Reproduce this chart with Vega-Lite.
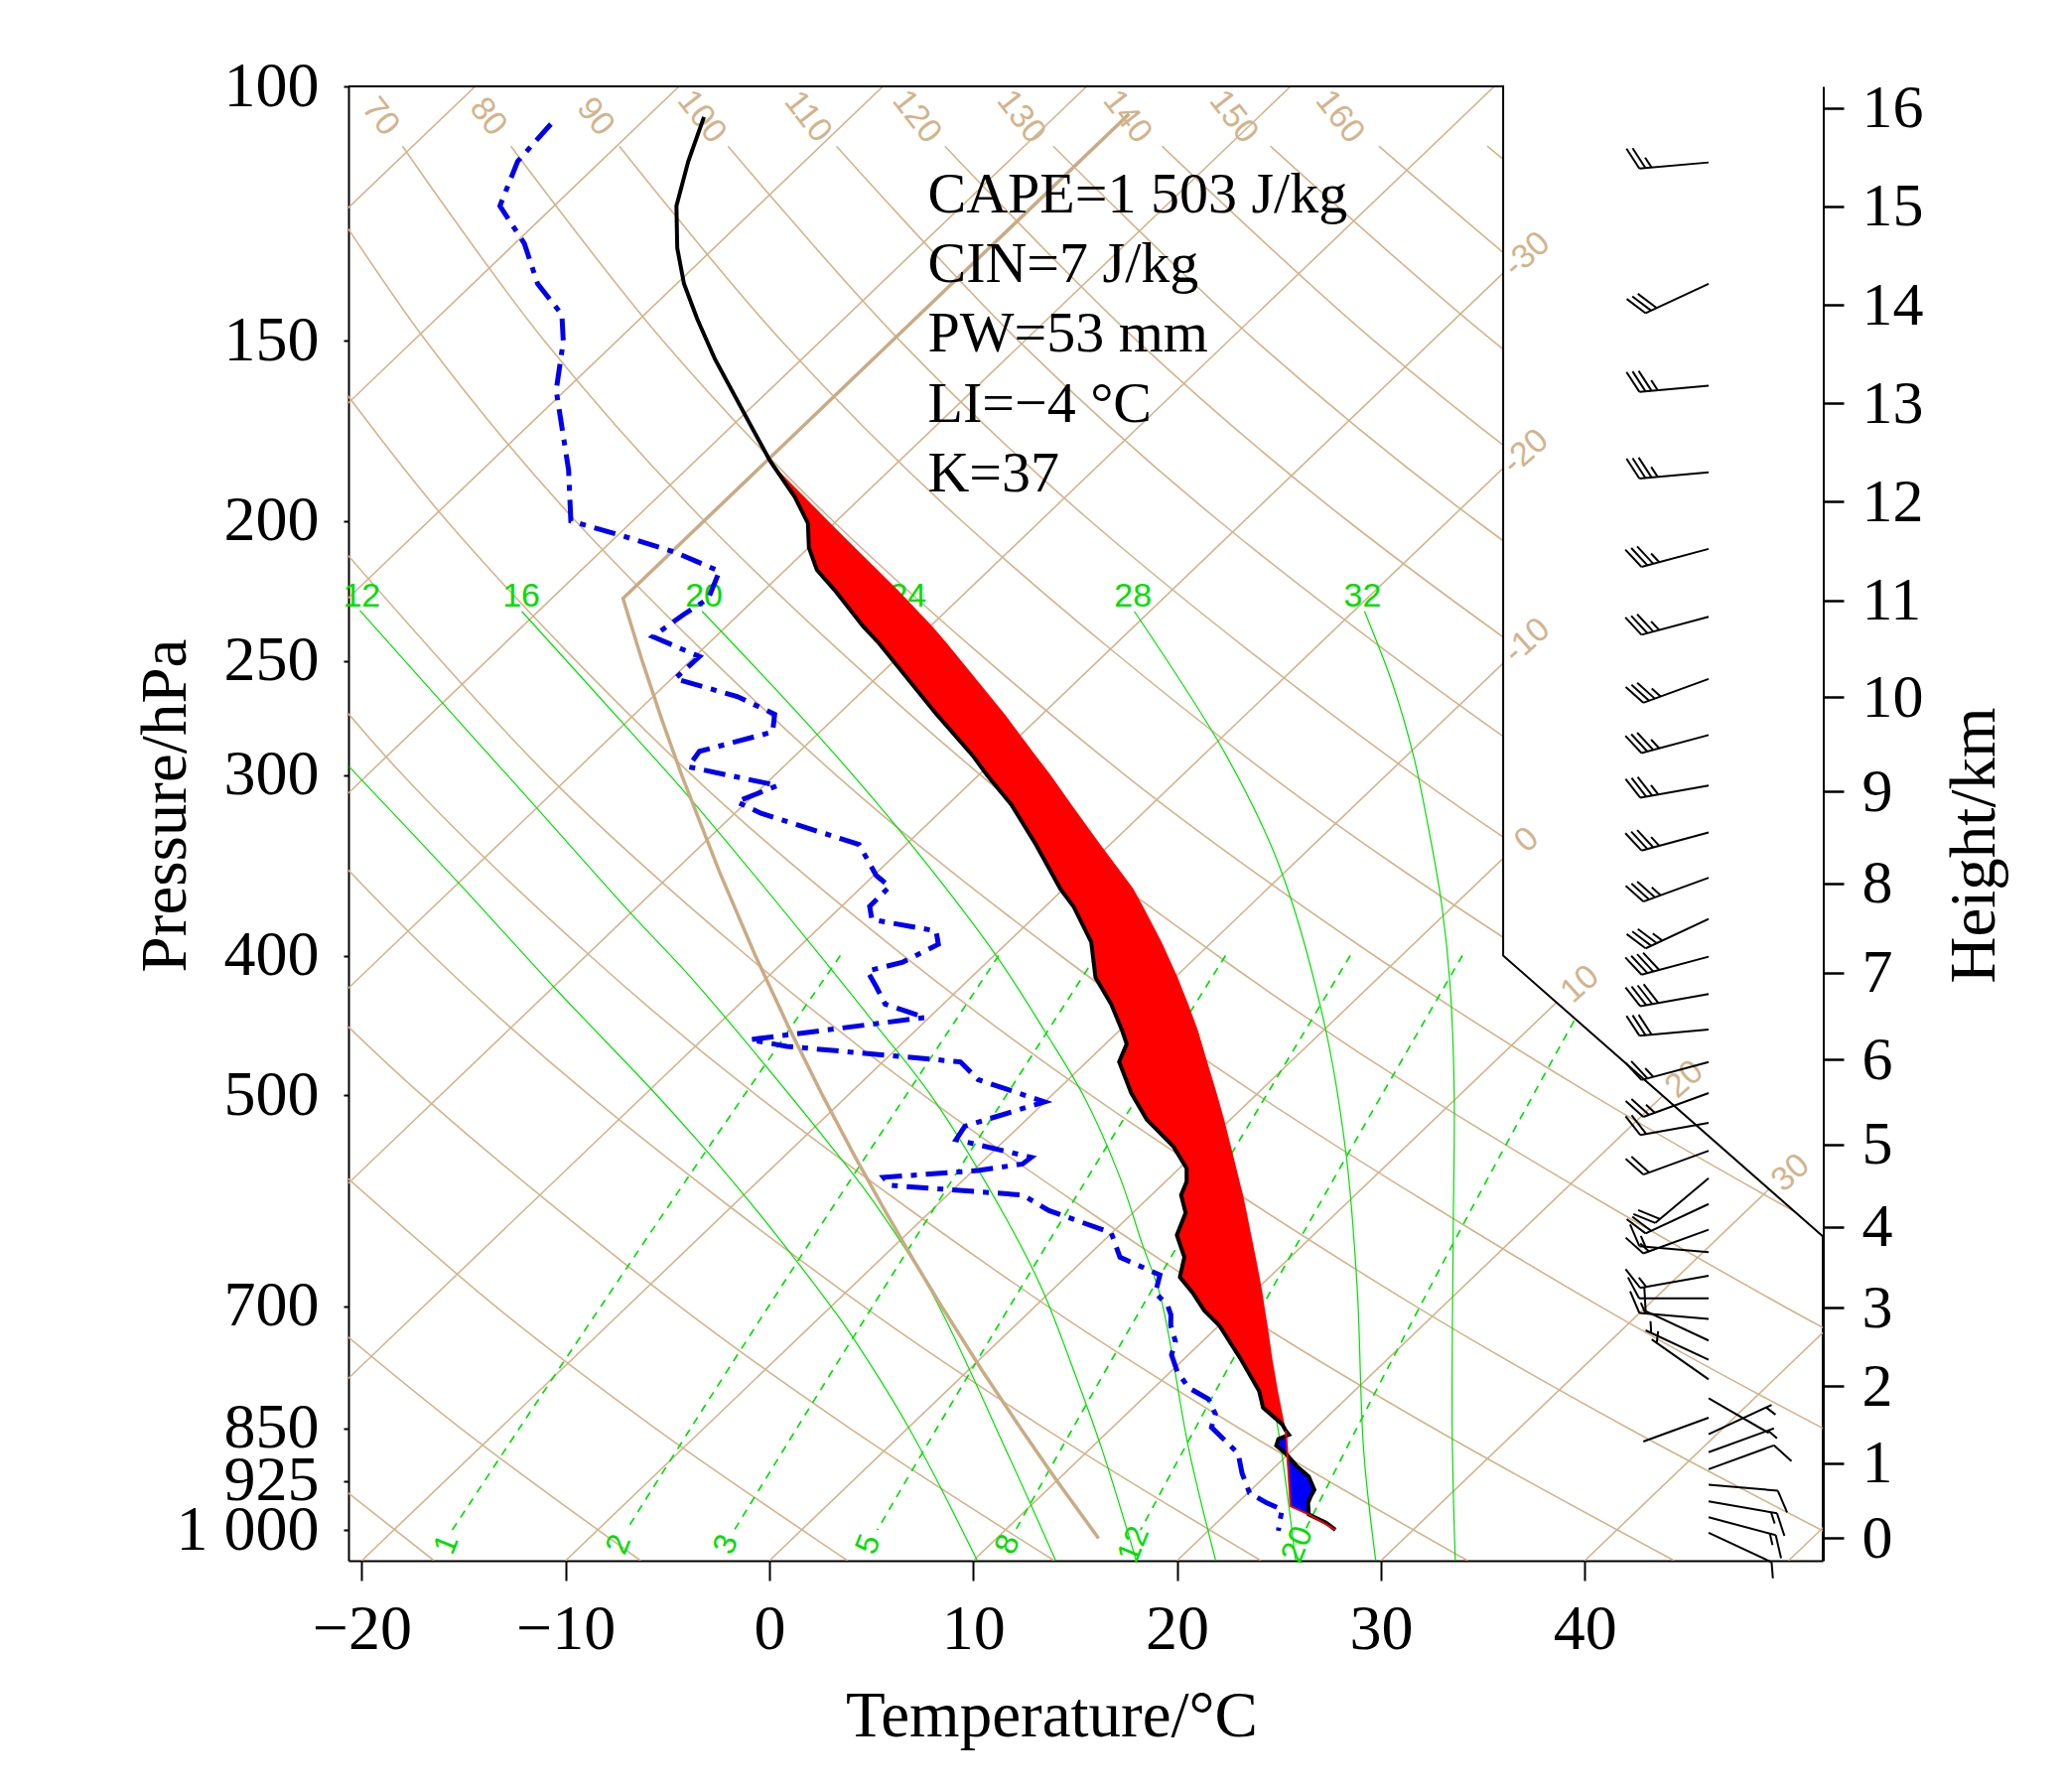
{
"$schema":"https://vega.github.io/schema/vega-lite/v6.json",
"width":1485,"height":1485,
"autosize":{"type":"none"},
"padding":{"left":351,"top":87,"right":245,"bottom":233},
"background":"white",
"config":{"view":{"stroke":null},"axis":{"grid":false}},
"datasets":{
"isobars":[{"p":1000},{"p":925},{"p":850},{"p":700},{"p":500},{"p":400},{"p":300},{"p":250},{"p":200},{"p":150}],
"isotherms":[{"g":"-90","x":-90,"p":1050},{"g":"-90","x":-14.43,"p":100},{"g":"-80","x":-80,"p":1050},{"g":"-80","x":-4.43,"p":100},{"g":"-70","x":-70,"p":1050},{"g":"-70","x":5.57,"p":100},{"g":"-60","x":-60,"p":1050},{"g":"-60","x":15.57,"p":100},{"g":"-50","x":-50,"p":1050},{"g":"-50","x":25.57,"p":100},{"g":"-40","x":-40,"p":1050},{"g":"-40","x":35.57,"p":100},{"g":"-30","x":-30,"p":1050},{"g":"-30","x":45.57,"p":100},{"g":"-20","x":-20,"p":1050},{"g":"-20","x":55.57,"p":100},{"g":"-10","x":-10,"p":1050},{"g":"-10","x":65.57,"p":100},{"g":"0","x":0,"p":1050},{"g":"0","x":75.57,"p":100},{"g":"10","x":10,"p":1050},{"g":"10","x":85.57,"p":100},{"g":"20","x":20,"p":1050},{"g":"20","x":95.57,"p":100},{"g":"30","x":30,"p":1050},{"g":"30","x":105.57,"p":100},{"g":"40","x":40,"p":1050},{"g":"40","x":115.57,"p":100},{"g":"50","x":50,"p":1050},{"g":"50","x":125.57,"p":100}],
"dry":[
{"g":"-20","x":-16.45,"p":1050},{"g":"-20","x":-24.69,"p":850},
{"g":"-10","x":-6.31,"p":1050},{"g":"-10","x":-15.15,"p":850},{"g":"-10","x":-22.46,"p":700},
{"g":"0","x":3.84,"p":1050},{"g":"0","x":-5.6,"p":850},{"g":"0","x":-13.43,"p":700},{"g":"0","x":-25.23,"p":500},
{"g":"10","x":13.98,"p":1050},{"g":"10","x":3.94,"p":850},{"g":"10","x":-4.4,"p":700},{"g":"10","x":-17.03,"p":500},{"g":"10","x":-24.2,"p":400},
{"g":"20","x":24.12,"p":1050},{"g":"20","x":13.49,"p":850},{"g":"20","x":4.63,"p":700},{"g":"20","x":-8.82,"p":500},{"g":"20","x":-16.51,"p":400},{"g":"20","x":-25.07,"p":300},
{"g":"30","x":34.26,"p":1050},{"g":"30","x":23.04,"p":850},{"g":"30","x":13.66,"p":700},{"g":"30","x":-0.62,"p":500},{"g":"30","x":-8.81,"p":400},{"g":"30","x":-17.98,"p":300},{"g":"30","x":-28.45,"p":200},
{"g":"40","x":44.4,"p":1050},{"g":"40","x":32.58,"p":850},{"g":"40","x":22.69,"p":700},{"g":"40","x":7.58,"p":500},{"g":"40","x":-1.11,"p":400},{"g":"40","x":-10.89,"p":300},{"g":"40","x":-22.13,"p":200},
{"g":"50","x":54.54,"p":1050},{"g":"50","x":42.13,"p":850},{"g":"50","x":31.72,"p":700},{"g":"50","x":15.79,"p":500},{"g":"50","x":6.58,"p":400},{"g":"50","x":-3.8,"p":300},{"g":"50","x":-15.82,"p":200},{"g":"50","x":-22.68,"p":150},
{"g":"60","x":64.68,"p":1050},{"g":"60","x":51.68,"p":850},{"g":"60","x":40.76,"p":700},{"g":"60","x":23.99,"p":500},{"g":"60","x":14.28,"p":400},{"g":"60","x":3.28,"p":300},{"g":"60","x":-9.51,"p":200},{"g":"60","x":-16.86,"p":150},{"g":"60","x":-23.32,"p":110},
{"g":"70","x":74.82,"p":1050},{"g":"70","x":61.22,"p":850},{"g":"70","x":49.79,"p":700},{"g":"70","x":32.19,"p":500},{"g":"70","x":21.98,"p":400},{"g":"70","x":10.37,"p":300},{"g":"70","x":-3.19,"p":200},{"g":"70","x":-11.05,"p":150},{"g":"70","x":-18.0,"p":110},
{"g":"80","x":70.77,"p":850},{"g":"80","x":58.82,"p":700},{"g":"80","x":40.4,"p":500},{"g":"80","x":29.67,"p":400},{"g":"80","x":17.46,"p":300},{"g":"80","x":3.12,"p":200},{"g":"80","x":-5.23,"p":150},{"g":"80","x":-12.68,"p":110},
{"g":"90","x":67.85,"p":700},{"g":"90","x":48.6,"p":500},{"g":"90","x":37.37,"p":400},{"g":"90","x":24.55,"p":300},{"g":"90","x":9.44,"p":200},{"g":"90","x":0.58,"p":150},{"g":"90","x":-7.36,"p":110},
{"g":"100","x":76.88,"p":700},{"g":"100","x":56.8,"p":500},{"g":"100","x":45.07,"p":400},{"g":"100","x":31.64,"p":300},{"g":"100","x":15.75,"p":200},{"g":"100","x":6.4,"p":150},{"g":"100","x":-2.03,"p":110},
{"g":"110","x":65.01,"p":500},{"g":"110","x":52.76,"p":400},{"g":"110","x":38.73,"p":300},{"g":"110","x":22.06,"p":200},{"g":"110","x":12.21,"p":150},{"g":"110","x":3.29,"p":110},
{"g":"120","x":60.46,"p":400},{"g":"120","x":45.82,"p":300},{"g":"120","x":28.38,"p":200},{"g":"120","x":18.03,"p":150},{"g":"120","x":8.61,"p":110},
{"g":"130","x":68.16,"p":400},{"g":"130","x":52.91,"p":300},{"g":"130","x":34.69,"p":200},{"g":"130","x":23.85,"p":150},{"g":"130","x":13.93,"p":110},
{"g":"140","x":60.0,"p":300},{"g":"140","x":41.01,"p":200},{"g":"140","x":29.66,"p":150},{"g":"140","x":19.26,"p":110},
{"g":"150","x":67.09,"p":300},{"g":"150","x":47.32,"p":200},{"g":"150","x":35.48,"p":150},{"g":"150","x":24.58,"p":110},
{"g":"160","x":53.63,"p":200},{"g":"160","x":41.29,"p":150},{"g":"160","x":29.9,"p":110},
{"g":"170","x":59.95,"p":200},{"g":"170","x":47.11,"p":150},{"g":"170","x":35.22,"p":110}],
"moist":[
{"g":"8","x":-20.61,"p":296},{"g":"8","x":-15.28,"p":355.8},{"g":"8","x":-10.5,"p":421.6},{"g":"8","x":-5.72,"p":496.3},{"g":"8","x":-3.67,"p":534.4},{"g":"8","x":-1.15,"p":588.2},{"g":"8","x":0.68,"p":633.5},{"g":"8","x":3.09,"p":702.1},{"g":"8","x":3.94,"p":730},{"g":"8","x":6.85,"p":850},{"g":"8","x":10.2,"p":1050},
{"g":"12","x":-20.09,"p":230.7},{"g":"12","x":-14.6,"p":281.7},{"g":"12","x":-12.0,"p":309.4},{"g":"12","x":-6.8,"p":373.9},{"g":"12","x":-3.85,"p":414.2},{"g":"12","x":-1.25,"p":457.4},{"g":"12","x":2.85,"p":538.3},{"g":"12","x":5.03,"p":590.2},{"g":"12","x":7.9,"p":682},{"g":"12","x":11.64,"p":882},{"g":"12","x":14.05,"p":1050},
{"g":"16","x":-12.15,"p":231},{"g":"16","x":-6.63,"p":281.7},{"g":"16","x":-4.0,"p":310},{"g":"16","x":1.95,"p":391.4},{"g":"16","x":5.1,"p":444.6},{"g":"16","x":8.0,"p":501.6},{"g":"16","x":11.7,"p":611.4},{"g":"16","x":13.4,"p":682},{"g":"16","x":15.05,"p":783.4},{"g":"16","x":16.35,"p":882},{"g":"16","x":18.0,"p":1050},
{"g":"20","x":-3.3,"p":231},{"g":"20","x":2.4,"p":281.7},{"g":"20","x":6.77,"p":332.6},{"g":"20","x":11.12,"p":399.9},{"g":"20","x":13.5,"p":451},{"g":"20","x":15.46,"p":501.6},{"g":"20","x":17.2,"p":569.7},{"g":"20","x":18.29,"p":633.5},{"g":"20","x":19.2,"p":690},{"g":"20","x":20.6,"p":882},{"g":"20","x":21.9,"p":1050},
{"g":"24","x":6.5,"p":231},{"g":"24","x":10.6,"p":266.4},{"g":"24","x":12.3,"p":290.8},{"g":"24","x":15.5,"p":335},{"g":"24","x":18.5,"p":386},{"g":"24","x":20.4,"p":444.6},{"g":"24","x":21.75,"p":512.2},{"g":"24","x":22.85,"p":590.2},{"g":"24","x":23.75,"p":680},{"g":"24","x":24.45,"p":783.4},{"g":"24","x":24.97,"p":853.6},{"g":"24","x":25.82,"p":1050},
{"g":"28","x":17.9,"p":231},{"g":"28","x":22.42,"p":290.8},{"g":"28","x":25.03,"p":347.1},{"g":"28","x":27.21,"p":444.6},{"g":"28","x":28.3,"p":549.9},{"g":"28","x":28.84,"p":680},{"g":"28","x":29.16,"p":882},{"g":"28","x":29.75,"p":1050},
{"g":"32","x":29.2,"p":231},{"g":"32","x":30.6,"p":260},{"g":"32","x":31.6,"p":290.8},{"g":"32","x":32.4,"p":330},{"g":"32","x":33.0,"p":370},{"g":"32","x":33.4,"p":420},{"g":"32","x":33.6,"p":500},{"g":"32","x":33.55,"p":620},{"g":"32","x":33.5,"p":850},{"g":"32","x":33.65,"p":1050}],
"mix":[
{"g":"1","x":-15.56,"p":1000},{"g":"1","x":-12.26,"p":850},{"g":"1","x":-8.27,"p":700},{"g":"1","x":-3.25,"p":550},{"g":"1","x":3.48,"p":400},
{"g":"2","x":-7.01,"p":1000},{"g":"2","x":-3.86,"p":850},{"g":"2","x":-0.04,"p":700},{"g":"2","x":4.77,"p":550},{"g":"2","x":11.25,"p":400},
{"g":"3","x":-1.72,"p":1000},{"g":"3","x":1.35,"p":850},{"g":"3","x":5.06,"p":700},{"g":"3","x":9.74,"p":550},{"g":"3","x":16.04,"p":400},
{"g":"5","x":5.29,"p":1000},{"g":"5","x":8.22,"p":850},{"g":"5","x":11.79,"p":700},{"g":"5","x":16.29,"p":550},{"g":"5","x":22.38,"p":400},
{"g":"8","x":12.08,"p":1000},{"g":"8","x":14.89,"p":850},{"g":"8","x":18.3,"p":700},{"g":"8","x":22.63,"p":550},{"g":"8","x":28.5,"p":400},
{"g":"12","x":18.21,"p":1000},{"g":"12","x":20.9,"p":850},{"g":"12","x":24.18,"p":700},{"g":"12","x":28.35,"p":550},{"g":"12","x":34.0,"p":400},
{"g":"20","x":26.29,"p":1000},{"g":"20","x":28.82,"p":850},{"g":"20","x":31.92,"p":700},{"g":"20","x":35.86,"p":550},{"g":"20","x":41.25,"p":400}],
"stdatm":[{"x":16.15,"p":1013.25},{"x":14.12,"p":925},{"x":12.32,"p":850},{"x":10.43,"p":775},{"x":8.45,"p":700},{"x":7.07,"p":650},{"x":5.65,"p":600},{"x":4.16,"p":550},{"x":2.61,"p":500},{"x":1.0,"p":450},{"x":-0.69,"p":400},{"x":-2.45,"p":350},{"x":-4.3,"p":300},{"x":-5.26,"p":275},{"x":-6.24,"p":250},{"x":-7.18,"p":226.32},{"x":17.65,"p":104.5}],
"overlay":[{"p":99,"x":36,"x2":53},{"p":400,"x":36,"x2":53},{"p":626,"x":51.68,"x2":53}],
"frame":[{"i":0,"x":-20.65,"p":100},{"i":1,"x":36,"p":100},{"i":2,"x":36,"p":400},{"i":3,"x":51.68,"p":626}],
"drylabels":[{"t":"70","x":-19.09,"p":105},{"t":"80","x":-13.81,"p":105},{"t":"90","x":-8.54,"p":105},{"t":"100","x":-3.33,"p":105},{"t":"110","x":1.88,"p":105},{"t":"120","x":7.22,"p":105},{"t":"130","x":12.34,"p":105},{"t":"140","x":17.55,"p":105},{"t":"150","x":22.76,"p":105},{"t":"160","x":27.98,"p":105}],
"isolabels":[{"t":"-30","x":37.17,"p":130.8},{"t":"-20","x":37.1,"p":179.2},{"t":"-10","x":37.17,"p":242.2},{"t":"0","x":37.17,"p":332.7},{"t":"10","x":39.78,"p":418.8},{"t":"20","x":44.9,"p":487.5},{"t":"30","x":50.11,"p":565.9}],
"moistlabels":[{"t":"12","x":-20.0,"p":225.6},{"t":"16","x":-12.17,"p":225.6},{"t":"20","x":-3.21,"p":225.6},{"t":"24","x":6.79,"p":225.6},{"t":"28","x":17.84,"p":225.6},{"t":"32","x":29.1,"p":225.6}],
"mixlabels":[{"t":"1","x":-15.85,"p":1023},{"t":"2","x":-7.4,"p":1023},{"t":"3","x":-2.14,"p":1023},{"t":"5","x":4.85,"p":1023},{"t":"8","x":11.68,"p":1023},{"t":"12","x":17.86,"p":1023},{"t":"20","x":25.9,"p":1023}],
"red":[{"p":184.4,"x":0.35,"x2":0.42},{"p":192.4,"x":1.24,"x2":1.71},{"p":200.7,"x":1.89,"x2":2.99},{"p":208.7,"x":1.94,"x2":4.2},{"p":216.2,"x":2.33,"x2":5.3},{"p":223.3,"x":3.2,"x2":6.3},{"p":236.6,"x":4.6,"x2":8.0},{"p":243,"x":5.37,"x2":8.7},{"p":272.2,"x":8.2,"x2":11.55},{"p":290.8,"x":9.98,"x2":13.07},{"p":300,"x":10.68,"x2":13.8},{"p":314.4,"x":11.87,"x2":14.82},{"p":335,"x":13.07,"x2":16.23},{"p":359.5,"x":14.27,"x2":17.85},{"p":369.8,"x":14.92,"x2":18.33},{"p":391.4,"x":15.79,"x2":19.24},{"p":414.2,"x":16.0,"x2":20.03},{"p":432.2,"x":16.77,"x2":20.55},{"p":451,"x":17.31,"x2":21.03},{"p":460.6,"x":17.53,"x2":21.22},{"p":473.9,"x":17.16,"x2":21.48},{"p":497.9,"x":17.75,"x2":21.94},{"p":519.5,"x":18.51,"x2":22.31},{"p":542.1,"x":19.81,"x2":22.64},{"p":561.6,"x":20.47,"x2":22.91},{"p":573.7,"x":20.47,"x2":23.07},{"p":586,"x":20.2,"x2":23.24},{"p":602.9,"x":20.42,"x2":23.42},{"p":624.6,"x":19.99,"x2":23.64},{"p":647.1,"x":20.36,"x2":23.86},{"p":668,"x":20.14,"x2":24.05},{"p":684.6,"x":20.76,"x2":24.19},{"p":704.4,"x":21.33,"x2":24.32},{"p":721.5,"x":22.07,"x2":24.44},{"p":760.3,"x":23.1,"x2":24.67},{"p":801.3,"x":24.03,"x2":24.95},{"p":822.6,"x":24.22,"x2":25.11},{"p":844.4,"x":25.15,"x2":25.27},{"p":853.6,"x":25.34,"x2":25.34}],
"blue":[{"p":853.6,"x":25.34,"x2":25.34},{"p":858.9,"x":25.49,"x2":25.35},{"p":864.8,"x":24.97,"x2":25.36},{"p":874,"x":24.87,"x2":25.37},{"p":885.1,"x":25.34,"x2":25.38},{"p":903.9,"x":25.9,"x2":25.43},{"p":918.2,"x":26.46,"x2":25.47},{"p":937.7,"x":26.74,"x2":25.51},{"p":947.6,"x":26.56,"x2":25.54},{"p":957.6,"x":26.43,"x2":25.56},{"p":962.6,"x":26.45,"x2":25.57},{"p":975.3,"x":26.46,"x2":26.46}],
"env":[{"x":-3.21,"p":105},{"x":-3.98,"p":112.7},{"x":-4.56,"p":121},{"x":-4.52,"p":129.4},{"x":-4.19,"p":137},{"x":-3.54,"p":144.9},{"x":-2.67,"p":154.5},{"x":-1.26,"p":168.2},{"x":0.04,"p":181.8},{"x":1.24,"p":192.4},{"x":1.89,"p":200.7},{"x":1.94,"p":208.7},{"x":2.33,"p":216.2},{"x":3.2,"p":223.3},{"x":4.6,"p":236.6},{"x":5.37,"p":243},{"x":8.2,"p":272.2},{"x":9.98,"p":290.8},{"x":10.68,"p":300},{"x":11.87,"p":314.4},{"x":13.07,"p":335},{"x":14.27,"p":359.5},{"x":14.92,"p":369.8},{"x":15.79,"p":391.4},{"x":16.0,"p":414.2},{"x":16.77,"p":432.2},{"x":17.31,"p":451},{"x":17.53,"p":460.6},{"x":17.16,"p":473.9},{"x":17.75,"p":497.9},{"x":18.51,"p":519.5},{"x":19.81,"p":542.1},{"x":20.47,"p":561.6},{"x":20.47,"p":573.7},{"x":20.2,"p":586},{"x":20.42,"p":602.9},{"x":19.99,"p":624.6},{"x":20.36,"p":647.1},{"x":20.14,"p":668},{"x":20.76,"p":684.6},{"x":21.33,"p":704.4},{"x":22.07,"p":721.5},{"x":23.1,"p":760.3},{"x":24.03,"p":801.3},{"x":24.22,"p":822.6},{"x":25.15,"p":844.4},{"x":25.34,"p":853.6},{"x":25.49,"p":858.9},{"x":24.97,"p":864.8},{"x":24.87,"p":874},{"x":25.34,"p":885.1},{"x":25.9,"p":903.9},{"x":26.46,"p":918.2},{"x":26.74,"p":937.7},{"x":26.56,"p":947.6},{"x":26.43,"p":957.6},{"x":26.46,"p":975.3},{"x":27.31,"p":988.1},{"x":27.77,"p":999.6}],
"parcel":[{"x":25.34,"p":853.6},{"x":25.57,"p":962.6},{"x":26.46,"p":975.3},{"x":27.77,"p":999.6}],
"dew":[{"x":-10.72,"p":106.2},{"x":-12.35,"p":112.7},{"x":-13.22,"p":121},{"x":-12.02,"p":128.5},{"x":-11.37,"p":137},{"x":-10.18,"p":143.9},{"x":-10.11,"p":150.2},{"x":-10.46,"p":162.4},{"x":-9.85,"p":184.4},{"x":-9.74,"p":200},{"x":-7.46,"p":204.3},{"x":-4.63,"p":210.2},{"x":-2.45,"p":216.7},{"x":-3.0,"p":226.4},{"x":-4.19,"p":232.1},{"x":-5.72,"p":240.5},{"x":-3.43,"p":248.3},{"x":-4.63,"p":257.2},{"x":-1.58,"p":264.6},{"x":0.26,"p":272.2},{"x":0.16,"p":280},{"x":-3.43,"p":288.8},{"x":-3.98,"p":296},{"x":0.4,"p":305},{"x":-1.6,"p":313},{"x":-0.41,"p":318.8},{"x":4.4,"p":335},{"x":5.24,"p":352},{"x":5.9,"p":358.3},{"x":4.92,"p":369.8},{"x":5.03,"p":377.7},{"x":8.18,"p":384.6},{"x":8.29,"p":392.9},{"x":6.55,"p":404.2},{"x":4.81,"p":410},{"x":5.24,"p":420.3},{"x":5.68,"p":432.2},{"x":7.64,"p":441.5},{"x":-0.95,"p":457.4},{"x":0.85,"p":462.3},{"x":9.37,"p":473.9},{"x":10.24,"p":487.5},{"x":13.5,"p":505.1},{"x":9.59,"p":525.1},{"x":9.16,"p":536.4},{"x":12.85,"p":551.8},{"x":12.42,"p":557.7},{"x":10.24,"p":563.6},{"x":5.6,"p":569.7},{"x":5.9,"p":577},{"x":12.42,"p":586},{"x":13.72,"p":600.8},{"x":16.77,"p":622.4},{"x":17.2,"p":647.1},{"x":19.16,"p":665.7},{"x":18.94,"p":684.8},{"x":19.54,"p":699},{"x":19.7,"p":709.4},{"x":19.69,"p":721.5},{"x":19.92,"p":740.2},{"x":19.73,"p":756.3},{"x":20.01,"p":776.4},{"x":20.57,"p":797},{"x":21.55,"p":811.6},{"x":21.88,"p":830.9},{"x":21.69,"p":848.8},{"x":22.35,"p":866.8},{"x":23.0,"p":885.1},{"x":23.19,"p":913.4},{"x":23.56,"p":942.7},{"x":24.4,"p":957.6},{"x":25.15,"p":967.7},{"x":25.06,"p":983},{"x":24.97,"p":1001.2}],
"barbs":[
{"x":46.08,"p":112.9,"x2":42.683,"p2":114.0},{"x":42.683,"p":114.0,"x2":42.051,"p2":110.45},{"x":42.983,"p":113.9,"x2":42.35,"p2":110.35},{"x":43.281,"p":113.8,"x2":42.964,"p2":112.02},
{"x":46.08,"p":137,"x2":42.99,"p2":143.58},{"x":42.99,"p":143.58,"x2":42.063,"p2":140.36},{"x":43.262,"p":142.99,"x2":42.335,"p2":139.78},{"x":43.534,"p":142.4,"x2":42.607,"p2":139.21},
{"x":46.08,"p":161.2,"x2":42.683,"p2":162.77},{"x":42.683,"p":162.77,"x2":42.051,"p2":157.7},{"x":42.983,"p":162.63,"x2":42.35,"p2":157.56},{"x":43.281,"p":162.49,"x2":42.648,"p2":157.43},{"x":43.58,"p":162.35,"x2":43.264,"p2":159.81},
{"x":46.08,"p":185.1,"x2":42.683,"p2":186.9},{"x":42.683,"p":186.9,"x2":42.051,"p2":181.08},{"x":42.983,"p":186.74,"x2":42.35,"p2":180.93},{"x":43.281,"p":186.58,"x2":42.648,"p2":180.77},{"x":43.58,"p":186.42,"x2":43.264,"p2":183.5},
{"x":46.08,"p":209.1,"x2":42.787,"p2":215.2},{"x":42.787,"p":215.2,"x2":41.995,"p2":209.34},{"x":43.077,"p":214.65,"x2":42.285,"p2":208.82},{"x":43.366,"p":214.11,"x2":42.575,"p2":208.29},{"x":43.656,"p":213.57,"x2":43.26,"p2":210.65},
{"x":46.08,"p":233,"x2":42.787,"p2":239.79},{"x":42.787,"p":239.79,"x2":41.995,"p2":233.27},{"x":43.077,"p":239.19,"x2":42.285,"p2":232.69},{"x":43.366,"p":238.58,"x2":42.575,"p2":232.1},{"x":43.656,"p":237.98,"x2":43.26,"p2":234.72},
{"x":46.08,"p":257.3,"x2":42.876,"p2":267.25},{"x":42.876,"p":267.25,"x2":42.014,"p2":260.6},{"x":43.158,"p":266.36,"x2":42.296,"p2":259.73},{"x":43.44,"p":265.48,"x2":42.578,"p2":258.87},{"x":43.722,"p":264.59,"x2":43.291,"p2":261.28},
{"x":46.08,"p":281.4,"x2":42.787,"p2":289.6},{"x":42.787,"p":289.6,"x2":41.995,"p2":281.73},{"x":43.077,"p":288.87,"x2":42.285,"p2":281.02},{"x":43.366,"p":288.14,"x2":42.575,"p2":280.31},{"x":43.656,"p":287.42,"x2":43.26,"p2":283.48},
{"x":46.08,"p":305,"x2":42.722,"p2":310.93},{"x":42.722,"p":310.93,"x2":42.007,"p2":301.83},{"x":43.018,"p":310.41,"x2":42.303,"p2":301.32},{"x":43.313,"p":309.88,"x2":42.598,"p2":300.81},{"x":43.608,"p":309.36,"x2":43.251,"p2":304.79},
{"x":46.08,"p":328.7,"x2":42.787,"p2":338.28},{"x":42.787,"p":338.28,"x2":41.995,"p2":329.08},{"x":43.077,"p":337.43,"x2":42.285,"p2":328.26},{"x":43.366,"p":336.58,"x2":42.575,"p2":327.42},{"x":43.656,"p":335.73,"x2":43.26,"p2":331.13},
{"x":46.08,"p":353.3,"x2":42.876,"p2":366.97},{"x":42.876,"p":366.97,"x2":42.014,"p2":357.83},{"x":43.158,"p":365.74,"x2":42.296,"p2":356.64},{"x":43.44,"p":364.53,"x2":42.578,"p2":355.45},{"x":43.722,"p":363.31,"x2":43.291,"p2":358.76},
{"x":46.08,"p":377.3,"x2":42.99,"p2":395.42},{"x":42.99,"p":395.42,"x2":42.063,"p2":386.56},{"x":43.262,"p":393.79,"x2":42.335,"p2":384.96},{"x":43.534,"p":392.17,"x2":42.607,"p2":383.37},{"x":43.806,"p":390.55,"x2":43.342,"p2":386.15},
{"x":46.08,"p":400.7,"x2":42.787,"p2":412.38},{"x":42.787,"p":412.38,"x2":41.995,"p2":401.17},{"x":43.077,"p":411.34,"x2":42.285,"p2":400.16},{"x":43.366,"p":410.3,"x2":42.575,"p2":399.15},{"x":43.656,"p":409.27,"x2":42.865,"p2":398.14},
{"x":46.08,"p":425.3,"x2":42.722,"p2":433.57},{"x":42.722,"p":433.57,"x2":42.007,"p2":420.88},{"x":43.018,"p":432.84,"x2":42.303,"p2":420.17},{"x":43.313,"p":432.1,"x2":42.598,"p2":419.45},{"x":43.608,"p":431.37,"x2":42.893,"p2":418.74},
{"x":46.08,"p":450.1,"x2":42.683,"p2":454.47},{"x":42.683,"p":454.47,"x2":42.051,"p2":440.33},{"x":42.983,"p":454.09,"x2":42.35,"p2":439.95},{"x":43.281,"p":453.71,"x2":42.648,"p2":439.58},
{"x":46.08,"p":474,"x2":42.787,"p2":487.82},{"x":42.787,"p":487.82,"x2":41.995,"p2":474.55},{"x":43.077,"p":486.59,"x2":42.285,"p2":473.36},{"x":43.366,"p":485.36,"x2":42.97,"p2":478.71},
{"x":46.08,"p":498.1,"x2":42.876,"p2":517.37},{"x":42.876,"p":517.37,"x2":42.014,"p2":504.49},{"x":43.158,"p":515.64,"x2":42.296,"p2":502.81},{"x":43.44,"p":513.93,"x2":43.009,"p2":507.49},
{"x":46.08,"p":522.3,"x2":42.722,"p2":532.46},{"x":42.722,"p":532.46,"x2":42.007,"p2":516.87},{"x":43.018,"p":531.56,"x2":42.303,"p2":515.99},
{"x":46.08,"p":546.1,"x2":42.876,"p2":567.23},{"x":42.876,"p":567.23,"x2":42.014,"p2":553.11},{"x":43.158,"p":565.33,"x2":42.296,"p2":551.26},
{"x":46.08,"p":570.5,"x2":43.468,"p2":612.7},{"x":43.468,"p":612.7,"x2":42.393,"p2":604.12},{"x":43.698,"p":608.87,"x2":42.623,"p2":600.34},
{"x":46.08,"p":594.5,"x2":42.99,"p2":623.05},{"x":42.99,"p":623.05,"x2":42.063,"p2":609.08},{"x":43.262,"p":620.49,"x2":42.335,"p2":606.57},
{"x":46.08,"p":619.3,"x2":42.876,"p2":643.26},{"x":42.876,"p":643.26,"x2":42.014,"p2":627.25},{"x":43.158,"p":641.11,"x2":42.727,"p2":633.09},
{"x":46.08,"p":642,"x2":42.683,"p2":635.82},{"x":42.683,"p":635.82,"x2":42.229,"p2":614.12},{"x":42.983,"p":636.36,"x2":42.755,"p2":625.41},
{"x":46.08,"p":666.6,"x2":42.722,"p2":679.57},{"x":42.722,"p":679.57,"x2":42.007,"p2":659.67},{"x":43.018,"p":678.42,"x2":42.66,"p2":668.41},
{"x":46.08,"p":690.9,"x2":42.67,"p2":690.9},{"x":42.67,"p":690.9,"x2":42.125,"p2":668.27},
{"x":46.08,"p":714.2,"x2":42.683,"p2":707.32},{"x":42.683,"p":707.32,"x2":42.229,"p2":683.18},{"x":42.983,"p":707.93,"x2":42.755,"p2":695.75},
{"x":46.08,"p":739.1,"x2":42.99,"p2":705.23},{"x":42.99,"p":705.23,"x2":42.927,"p2":679.15},
{"x":46.08,"p":762.1,"x2":42.99,"p2":727.18},{"x":43.262,"p":730.18,"x2":43.23,"p2":716.56},
{"x":46.08,"p":786.3,"x2":43.287,"p2":737.79},{"x":43.533,"p":741.94,"x2":43.603,"p2":728.18},
{"x":46.08,"p":810.4,"x2":49.033,"p2":856.65},
{"x":46.08,"p":835.9,"x2":42.876,"p2":868.24},
{"x":46.08,"p":858.3,"x2":49.17,"p2":818.97},{"x":48.898,"p":822.35,"x2":49.362,"p2":831.73},
{"x":46.08,"p":883.2,"x2":49.284,"p2":850.3},{"x":49.002,"p":853.15,"x2":49.433,"p2":863.97},
{"x":46.08,"p":907.4,"x2":49.284,"p2":873.6},{"x":49.284,"p":873.6,"x2":50.146,"p2":895.9},
{"x":46.08,"p":930.1,"x2":49.477,"p2":939.14},{"x":49.477,"p":939.14,"x2":49.931,"p2":972.33},
{"x":46.08,"p":955.1,"x2":49.438,"p2":973.68},{"x":49.438,"p":973.68,"x2":49.798,"p2":1009.24},{"x":49.142,"p":972.03,"x2":49.322,"p2":989.62},
{"x":46.08,"p":979.6,"x2":49.373,"p2":1008.16},{"x":49.373,"p":1008.16,"x2":49.636,"p2":1045.91},{"x":49.083,"p":1005.62,"x2":49.215,"p2":1024.27},
{"x":46.08,"p":1004.3,"x2":49.17,"p2":1052.54},{"x":49.17,"p":1052.54,"x2":49.233,"p2":1080}],
"stats":[{"t":"CAPE=1 503 J/kg","x":7.77,"p":122.3},{"t":"CIN=7 J/kg","x":7.77,"p":136.7},{"t":"PW=53 mm","x":7.77,"p":152.7},{"t":"LI=−4 °C","x":7.77,"p":170.7},{"t":"K=37","x":7.77,"p":190.7}],
"heights":[{"h":0,"p":1013.25},{"h":1,"p":898.76},{"h":2,"p":795.01},{"h":3,"p":701.21},{"h":4,"p":616.6},{"h":5,"p":540.48},{"h":6,"p":472.17},{"h":7,"p":411.05},{"h":8,"p":356.51},{"h":9,"p":308},{"h":10,"p":264.99},{"h":11,"p":226.99},{"h":12,"p":193.99},{"h":13,"p":165.79},{"h":14,"p":141.7},{"h":15,"p":121.11},{"h":16,"p":103.52}]
},
"encoding":{
"x":{"field":"x","type":"quantitative","scale":{"domain":[-20.65,51.68],"nice":false,"zero":false},"axis":null},
"y":{"field":"p","type":"quantitative","scale":{"type":"log","domain":[100,1050],"nice":false,"reverse":true},"axis":null}
},
"layer":[
{"data":{"name":"isobars"},"mark":{"type":"rule","color":"#d2b48c","strokeWidth":2.2},
 "encoding":{"x":{"datum":-20.65,"axis":null},"x2":{"datum":51.68},
 "y":{"field":"p","type":"quantitative","scale":{"type":"log","domain":[100,1050],"nice":false,"reverse":true},
 "axis":{"orient":"left","values":[100,150,200,250,300,400,500,700,850,925,1000],"labelExpr":"datum.value == 1000 ? '1 000' : '' + datum.value","title":"Pressure/hPa","titleFont":"Liberation Serif","titleFontSize":65,"titleFontWeight":"normal","titleColor":"#000000","titleAngle":-90,"titleX":-185,"titleY":724,"titleAlign":"center","titleBaseline":"middle","labelFont":"Liberation Serif","labelFontSize":64,"labelColor":"#000000","labelPadding":25,"labelOverlap":false,"labelFlush":false,"tickSize":5,"tickWidth":2,"tickColor":"#000000","domainColor":"#000000","domainWidth":2}}}},
{"data":{"name":"isotherms"},"mark":{"type":"line","color":"#d2b48c","strokeWidth":1.6,"clip":true},
 "encoding":{"x":{"field":"x","type":"quantitative","scale":{"domain":[-20.65,51.68],"nice":false,"zero":false},
 "axis":{"orient":"bottom","values":[-20,-10,0,10,20,30,40],"title":"Temperature/°C","titleFont":"Liberation Serif","titleFontSize":65,"titleFontWeight":"normal","titleColor":"#000000","titleX":708,"titleY":176,"titleAlign":"center","titleBaseline":"alphabetic","labelFont":"Liberation Serif","labelFontSize":64,"labelColor":"#000000","labelPadding":17,"labelFlush":false,"labelOverlap":false,"tickSize":20,"tickWidth":2,"tickColor":"#000000","domainColor":"#000000","domainWidth":2}},
 "detail":{"field":"g"},"order":{"field":"p","type":"quantitative"}}},
{"data":{"name":"dry"},"mark":{"type":"line","color":"#d2b48c","strokeWidth":1.6,"clip":true,"interpolate":"catmull-rom"},"encoding":{"detail":{"field":"g"},"order":{"field":"p","type":"quantitative"}}},
{"data":{"name":"moist"},"mark":{"type":"line","color":"#00e000","strokeWidth":1.2,"clip":true,"interpolate":"catmull-rom"},"encoding":{"detail":{"field":"g"},"order":{"field":"p","type":"quantitative"}}},
{"data":{"name":"mix"},"mark":{"type":"line","color":"#00e000","strokeWidth":1.7,"strokeDash":[8,7],"clip":true,"interpolate":"catmull-rom"},"encoding":{"detail":{"field":"g"},"order":{"field":"p","type":"quantitative"}}},
{"data":{"name":"stdatm"},"mark":{"type":"line","color":"#c9ab84","strokeWidth":3.5,"clip":true},"encoding":{"order":{"field":"p","type":"quantitative"}}},
{"data":{"name":"overlay"},"mark":{"type":"area","orient":"horizontal","color":"#ffffff","opacity":1,"clip":true},"encoding":{"x2":{"field":"x2"}}},
{"data":{"name":"frame"},"mark":{"type":"line","color":"#000000","strokeWidth":2},"encoding":{"order":{"field":"i","type":"quantitative"}}},
{"data":{"name":"drylabels"},"mark":{"type":"text","font":"Liberation Sans","fontSize":34,"color":"#d2b48c","angle":52,"align":"center","baseline":"middle"},"encoding":{"text":{"field":"t"}}},
{"data":{"name":"isolabels"},"mark":{"type":"text","font":"Liberation Sans","fontSize":34,"color":"#d2b48c","angle":-42,"align":"center","baseline":"middle"},"encoding":{"text":{"field":"t"}}},
{"data":{"name":"moistlabels"},"mark":{"type":"text","font":"Liberation Sans","fontSize":34,"color":"#00dd00","align":"center","baseline":"middle"},"encoding":{"text":{"field":"t"}}},
{"data":{"name":"mixlabels"},"mark":{"type":"text","font":"Liberation Sans","fontSize":32,"color":"#00dd00","angle":-68,"align":"center","baseline":"middle"},"encoding":{"text":{"field":"t"}}},
{"data":{"name":"red"},"mark":{"type":"area","orient":"horizontal","color":"#ff0000","opacity":1},"encoding":{"x2":{"field":"x2"}}},
{"data":{"name":"blue"},"mark":{"type":"area","orient":"horizontal","color":"#0000ff","opacity":1},"encoding":{"x2":{"field":"x2"}}},
{"data":{"name":"env"},"mark":{"type":"line","color":"#000000","strokeWidth":4},"encoding":{"order":{"field":"p","type":"quantitative"}}},
{"data":{"name":"parcel"},"mark":{"type":"line","color":"#ee0000","strokeWidth":2},"encoding":{"order":{"field":"p","type":"quantitative"}}},
{"data":{"name":"dew"},"mark":{"type":"line","color":"#0000ee","strokeWidth":5,"strokeDash":[22,9,6,9]},"encoding":{"order":{"field":"p","type":"quantitative"}}},
{"data":{"name":"barbs"},"mark":{"type":"rule","color":"#000000","strokeWidth":2},"encoding":{"x2":{"field":"x2"},"y2":{"field":"p2"}}},
{"data":{"name":"stats"},"mark":{"type":"text","font":"Liberation Serif","fontSize":58,"color":"#000000","align":"left","baseline":"alphabetic"},"encoding":{"text":{"field":"t"}}},
{"data":{"name":"heights"},"mark":{"type":"point","opacity":0},
 "encoding":{"x":{"datum":51.68,"axis":null},
 "y":{"field":"p","type":"quantitative","scale":{"type":"log","domain":[100,1050],"nice":false,"reverse":true},
 "axis":{"orient":"right","values":[1013.25,898.76,795.01,701.21,616.6,540.48,472.17,411.05,356.51,308,264.99,226.99,193.99,165.79,141.7,121.11,103.52],"labelExpr":"'' + indexof([1013.25,898.76,795.01,701.21,616.6,540.48,472.17,411.05,356.51,308,264.99,226.99,193.99,165.79,141.7,121.11,103.52], datum.value)","title":"Height/km","titleFont":"Liberation Serif","titleFontSize":65,"titleFontWeight":"normal","titleColor":"#000000","titleAngle":-90,"titleX":152,"titleY":764,"titleAlign":"center","titleBaseline":"middle","labelFont":"Liberation Serif","labelFontSize":62,"labelColor":"#000000","labelPadding":18,"labelOverlap":false,"labelFlush":false,"tickSize":21,"tickWidth":2.5,"tickColor":"#000000","domainColor":"#000000","domainWidth":3}}}}
],
"resolve":{"axis":{"x":"independent","y":"independent"}}
}
